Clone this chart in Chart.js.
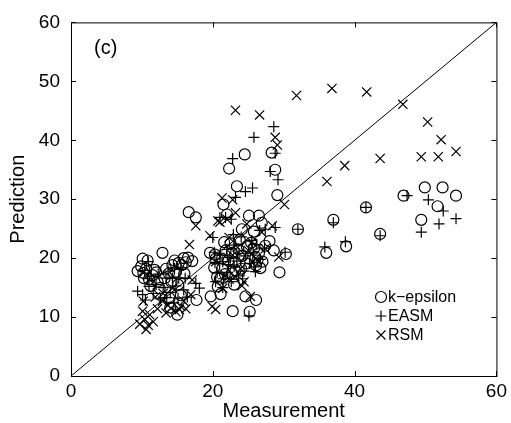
<!DOCTYPE html>
<html>
<head>
<meta charset="utf-8">
<script src="https://cdn.jsdelivr.net/npm/chart.js@4.4.1/dist/chart.umd.min.js"></script>
<style>
  html, body { margin: 0; padding: 0; background: #fff; }
  #wrap { width: 511px; height: 423px; }
</style>
</head>
<body>
<div id="wrap"><canvas id="chart" width="511" height="423"></canvas></div>
<script>
// Scatter of predicted vs measured values, panel (c)
const xTicks = [0, 20, 40, 60];
const yTicks = [0, 10, 20, 30, 40, 50, 60];
const diagonal = [[0, 0], [60, 60]];

const kEpsilon = [
  [24.5,37.6],[28.3,37.9],[22.3,35.2],[28.8,35.0],[23.4,32.2],[29.1,30.7],[21.5,29.1],[22.0,27.4],
  [25.1,27.2],[26.5,27.2],[24.1,24.9],[16.6,27.8],[17.6,26.9],[49.9,32.0],[52.4,32.0],[54.3,30.6],
  [51.7,28.8],[49.4,26.5],[46.9,30.6],[41.6,28.6],[43.6,24.1],[37.0,26.5],[38.8,22.0],[36.0,20.9],
  [32.0,24.9],[30.3,20.7],[29.4,17.6],[28.6,21.3],[26.1,12.9],[24.6,13.5],[22.8,11.0],[25.2,10.9],
  [21.1,13.9],[20.7,15.2],[19.7,13.5],[19.6,20.9],[17.7,12.9],[17.1,19.5],[15.9,20.0],[15.0,10.4],
  [12.9,20.9],[10.1,19.9],[9.4,17.8],[10.6,18.2],[11.5,17.1],[13.4,18.2],[14.3,18.8],[15.6,18.8],
  [14.8,17.7],[12.5,14.9],[13.9,13.2],[15.5,13.7],[10.3,16.6],[11.2,15.3],[12.2,16.0],[14.0,11.6],
  [16.2,19.3],[20.4,19.9],[21.3,19.9],[22.7,20.9],[23.2,19.3],[24.2,20.4],[25.1,19.9],[26.1,18.8],
  [27.0,19.4],[27.4,22.1],[21.3,18.2],[22.7,17.4],[24.0,18.2],[25.4,22.6],[26.5,20.8],[22.5,22.5],
  [23.8,23.1],[20.3,20.6],[21.0,16.5],[25.8,24.5],[26.9,26.0],[28.0,22.9],[23.0,15.5],[20.6,16.8],
  [10.2,17.5],[10.8,19.6],[11.0,16.4],[11.8,18.0],[13.8,17.4],[14.6,19.6],[15.2,19.2],[16.0,17.4],
  [13.2,16.6],[12.0,17.6],[9.9,18.6],[14.2,15.9],[15.1,15.5],[16.5,20.1],[21.8,21.3],[22.2,19.6],
  [23.6,21.5],[24.8,22.0],[25.8,21.6],[26.3,19.6],[26.7,18.3],[21.7,17.3],[20.2,18.4],[24.7,19.1],
  [23.2,17.9],[26.0,20.2],[21.6,22.7]
];

const easm = [
  [28.6,42.3],[25.8,40.5],[22.8,36.9],[28.8,37.8],[28.1,34.7],[29.2,33.3],[24.6,31.3],[25.6,31.9],
  [23.2,30.3],[47.4,30.6],[50.4,29.9],[52.5,28.0],[54.3,26.7],[51.9,25.8],[49.4,24.4],[41.6,28.6],
  [43.6,23.8],[37.0,26.0],[38.7,22.8],[35.8,21.9],[32.0,24.9],[30.2,21.0],[28.8,25.2],[27.4,24.9],
  [26.0,17.7],[25.1,10.2],[9.4,14.4],[10.1,13.8],[13.4,16.6],[14.3,16.6],[15.2,16.6],[16.1,16.6],
  [18.1,14.9],[17.6,15.7],[12.0,15.5],[10.8,16.5],[11.6,14.0],[13.0,15.0],[14.8,15.3],[15.9,14.6],
  [12.6,13.1],[14.5,12.4],[10.5,12.9],[21.0,26.9],[21.8,26.9],[22.6,26.6],[20.2,21.0],[21.0,20.5],
  [22.0,21.5],[23.0,22.2],[24.0,23.6],[25.5,23.0],[26.6,24.7],[20.6,17.5],[21.5,16.5],[22.6,16.0],
  [23.6,17.0],[24.4,17.8],[22.2,18.9],[23.4,19.5],[24.6,20.4],[25.7,21.0],[21.4,15.0],[20.3,19.2],
  [26.7,19.8],[27.3,21.7],[22.9,24.0],[20.0,23.5],
  [10.4,17.9],[10.9,19.4],[11.3,16.9],[12.3,17.3],[13.7,17.8],[14.6,18.3],[15.5,18.1],[14.0,14.2],
  [13.5,13.3],[15.1,13.2],[16.4,13.4],[11.0,15.2],[21.4,19.4],[22.4,20.1],[23.7,20.8],[25.2,19.1],
  [22.1,17.6],[23.0,18.6],[24.2,16.5],[26.2,22.3],[20.4,16.0],[25.8,18.5]
];

const rsm = [
  [23.2,45.1],[26.6,44.3],[31.8,47.6],[36.8,48.8],[41.7,48.2],[46.8,46.1],[50.3,43.1],[52.2,40.1],
  [54.3,38.1],[49.4,37.2],[51.8,37.2],[43.6,36.9],[38.6,35.7],[36.1,33.0],[28.8,40.5],[29.1,39.2],
  [30.1,29.1],[21.3,30.2],[22.8,29.9],[17.6,25.5],[16.7,22.3],[19.6,23.8],[20.7,26.3],[23.2,27.7],
  [29.3,20.2],[20.4,11.3],[19.9,11.8],[25.3,13.5],[24.4,16.0],[9.7,8.8],[10.6,7.9],[10.1,11.0],
  [11.1,10.4],[11.6,9.2],[13.4,10.7],[14.1,11.5],[15.3,11.3],[15.9,12.7],[14.3,14.9],[17.1,16.3],
  [16.9,13.8],[15.5,11.8],[12.9,12.7],[10.2,12.7],[21.8,17.1],[25.5,22.7],[26.9,24.4],[27.4,21.6],
  [26.0,19.9],[28.4,25.5],[22.8,20.5],[23.9,18.2],[20.4,19.4],[21.4,14.9],[22.3,23.5],[24.8,25.8],
  [11.9,13.4],[13.0,14.0],[10.4,9.6],
  [12.2,11.4],[13.7,12.0],[14.8,10.9],[16.2,11.4],[10.9,8.6],[22.3,16.4],[23.1,16.9],[24.1,15.3],
  [21.0,26.1],[22.0,26.6],[23.5,21.8],[25.0,21.3]
];

const seriesNames = ['k\u2212epsilon', 'EASM', 'RSM'];
const panelLabel = '(c)';

const toXY = arr => arr.map(p => ({ x: p[0], y: p[1] }));
const FONT = '"Liberation Sans", Arial, sans-serif';

function marker(style, radius) {
  return {
    type: 'scatter',
    pointStyle: style,
    pointRadius: radius,
    pointHoverRadius: radius,
    pointBorderWidth: 1.2,
    borderColor: '#000',
    backgroundColor: 'rgba(0,0,0,0)',
    showLine: false
  };
}

// frame, inward ticks, panel label and legend
const framePlugin = {
  id: 'frame',
  afterDraw(chart) {
    const { ctx, chartArea: a, scales: { x, y } } = chart;
    ctx.save();
    ctx.strokeStyle = '#000';
    ctx.lineWidth = 1;
    ctx.strokeRect(a.left + 0.5, a.top + 0.5, a.right - a.left, a.bottom - a.top);
    ctx.beginPath();
    xTicks.forEach(v => {
      const px = Math.round(x.getPixelForValue(v)) + 0.5;
      ctx.moveTo(px, a.bottom); ctx.lineTo(px, a.bottom - 5);
      ctx.moveTo(px, a.top); ctx.lineTo(px, a.top + 5);
    });
    yTicks.forEach(v => {
      const py = Math.round(y.getPixelForValue(v)) + 0.5;
      ctx.moveTo(a.left, py); ctx.lineTo(a.left + 5, py);
      ctx.moveTo(a.right, py); ctx.lineTo(a.right - 5, py);
    });
    ctx.stroke();

    ctx.fillStyle = '#000';
    ctx.font = '20px ' + FONT;
    ctx.textBaseline = 'middle';
    ctx.fillText(panelLabel, 94, 48);

    // legend
    const lx = 381, ly = [297, 316, 335];
    ctx.font = '16px ' + FONT;
    ctx.lineWidth = 1.2;
    ctx.beginPath();
    ctx.arc(lx, ly[0], 5.5, 0, Math.PI * 2);
    ctx.moveTo(lx - 5.5, ly[1]); ctx.lineTo(lx + 5.5, ly[1]);
    ctx.moveTo(lx, ly[1] - 5.5); ctx.lineTo(lx, ly[1] + 5.5);
    ctx.moveTo(lx - 4.5, ly[2] - 4.5); ctx.lineTo(lx + 4.5, ly[2] + 4.5);
    ctx.moveTo(lx - 4.5, ly[2] + 4.5); ctx.lineTo(lx + 4.5, ly[2] - 4.5);
    ctx.stroke();
    seriesNames.forEach((n, i) => ctx.fillText(n, lx + 7, ly[i] + 1));
    ctx.restore();
  }
};

new Chart(document.getElementById('chart'), {
  type: 'scatter',
  data: {
    datasets: [
      {
        type: 'line',
        data: toXY(diagonal),
        borderColor: '#000',
        borderWidth: 1,
        pointRadius: 0,
        fill: false
      },
      Object.assign(marker('circle', 5.5), { data: toXY(kEpsilon) }),
      Object.assign(marker('cross', 5.5), { data: toXY(easm) }),
      Object.assign(marker('crossRot', 6.5), { data: toXY(rsm) })
    ]
  },
  options: {
    responsive: false,
    animation: false,
    layout: { padding: { top: 15, right: 12, left: 0, bottom: 0 } },
    plugins: { legend: { display: false }, tooltip: { enabled: false } },
    scales: {
      x: {
        type: 'linear',
        min: 0, max: 60,
        afterBuildTicks: s => { s.ticks = xTicks.map(v => ({ value: v })); },
        afterFit: s => { s.height = 47; },
        grid: { display: false, drawTicks: false },
        border: { display: false },
        ticks: { color: '#000', padding: 4, maxRotation: 0, font: { family: FONT, size: 19 } },
        title: { display: true, text: 'Measurement', color: '#000', padding: { top: 0, bottom: 0 }, font: { family: FONT, size: 20 } }
      },
      y: {
        type: 'linear',
        min: 0, max: 60,
        afterBuildTicks: s => { s.ticks = yTicks.map(v => ({ value: v })); },
        afterFit: s => { s.width = 71; },
        grid: { display: false, drawTicks: false },
        border: { display: false },
        ticks: { color: '#000', padding: 11, font: { family: FONT, size: 19 } },
        title: { display: true, text: 'Prediction', color: '#000', padding: { top: 6, bottom: 0 }, font: { family: FONT, size: 20 } }
      }
    }
  },
  plugins: [framePlugin]
});
</script>
</body>
</html>
